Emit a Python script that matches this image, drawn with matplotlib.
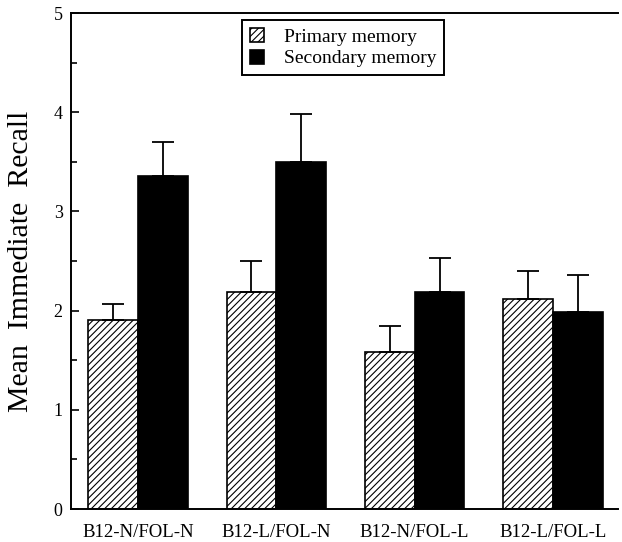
import matplotlib
matplotlib.use("Agg")
import matplotlib.pyplot as plt
import numpy as np

plt.rcParams["font.family"] = ["Liberation Serif", "DejaVu Serif"]
plt.rcParams["hatch.linewidth"] = 0.8

# data
groups = ["B12-N/FOL-N", "B12-L/FOL-N", "B12-N/FOL-L", "B12-L/FOL-L"]
primary = [1.91, 2.19, 1.58, 2.12]
primary_err = [0.16, 0.31, 0.26, 0.28]
secondary = [3.36, 3.50, 2.19, 1.99]
secondary_err = [0.34, 0.48, 0.34, 0.37]

x = np.arange(len(groups))
w = 0.36

fig = plt.figure(figsize=(6.22, 5.42), dpi=100)
ax = fig.add_axes([71 / 622, 33 / 542, 547 / 622, 496 / 542])

err_kw = dict(ecolor="black", elinewidth=1.3, capsize=8, capthick=1.3)
ax.bar(x - w / 2, primary, w, color="white", edgecolor="black", linewidth=1.2,
       hatch="/////", yerr=[np.zeros(4), primary_err], error_kw=err_kw,
       label="Primary memory")
ax.bar(x + w / 2, secondary, w, color="black", edgecolor="black", linewidth=1.2,
       yerr=[np.zeros(4), secondary_err], error_kw=err_kw,
       label="Secondary memory")

ax.set_xlim(-0.485, 3.47)
ax.set_ylim(0, 5)
ax.set_yticks([0, 1, 2, 3, 4, 5])
ax.set_yticks(np.arange(0.5, 5, 1), minor=True)
ax.set_xticks(x)
ax.set_xticklabels(groups, fontsize=13.5)
ax.tick_params(axis="y", which="major", direction="in", length=6, width=1.2, labelsize=13, pad=6)
ax.tick_params(axis="y", which="minor", direction="in", length=4, width=1.2)
ax.tick_params(axis="x", length=0, pad=11)
ax.set_ylabel("Mean  Immediate  Recall", fontsize=21.5, labelpad=14)

ax.spines["right"].set_visible(False)
for s in ["left", "bottom", "top"]:
    ax.spines[s].set_linewidth(1.4)

leg = ax.legend(loc="upper left", bbox_to_anchor=(242 / 622, 1 - 20 / 542),
                bbox_transform=fig.transFigure, fontsize=14, frameon=True,
                fancybox=False, edgecolor="black", framealpha=1,
                handlelength=0.75, handleheight=0.75, handletextpad=1.0,
                borderpad=0.4, labelspacing=0.2, borderaxespad=0)
leg.get_frame().set_linewidth(1.4)

fig.savefig("out.png", dpi=100)
